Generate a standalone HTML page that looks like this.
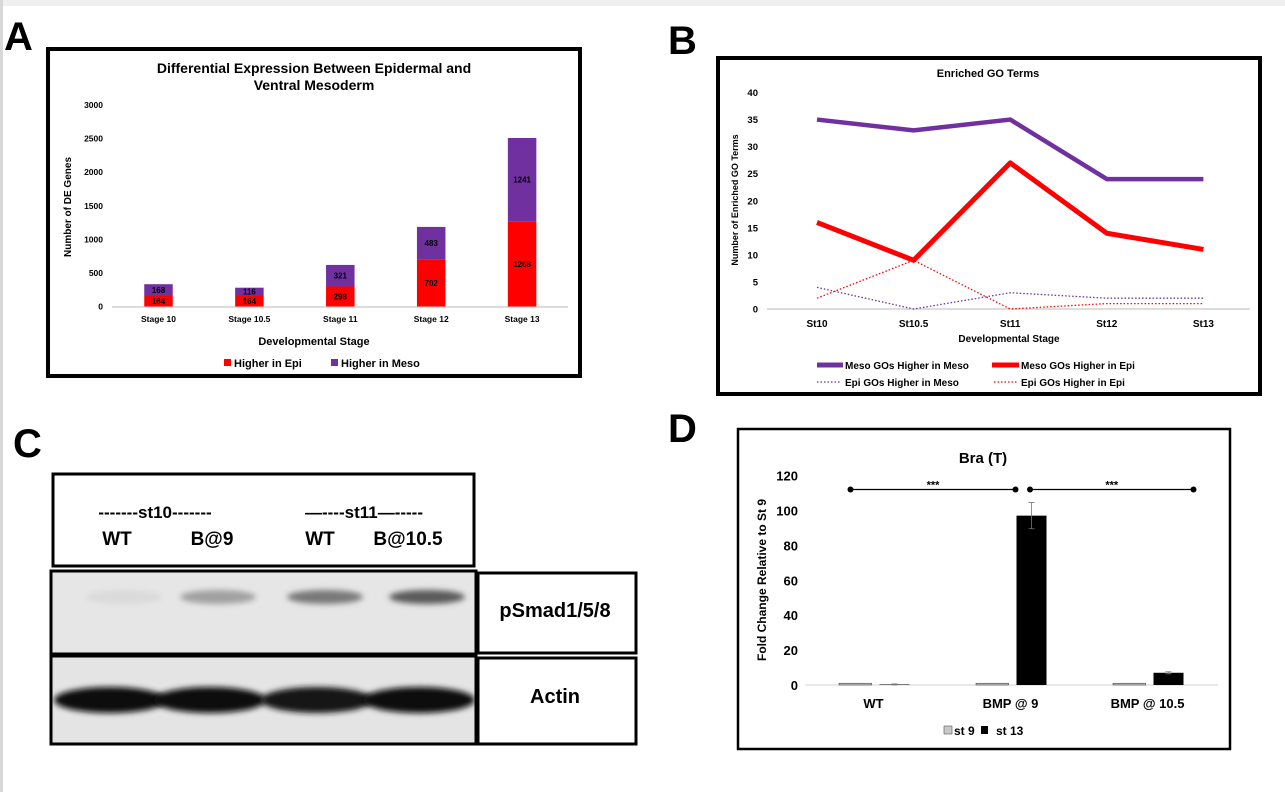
<!DOCTYPE html>
<html><head><meta charset="utf-8"><style>
html,body{margin:0;padding:0;background:#fff;}
svg{display:block;font-family:"Liberation Sans",Arial,sans-serif;font-weight:bold;}
</style></head><body>
<svg id="fig" width="1285" height="792" viewBox="0 0 1285 792">
<defs><filter id="blur" x="-30%" y="-80%" width="160%" height="260%"><feGaussianBlur stdDeviation="3"/></filter></defs>
<rect x="0" y="0" width="1285" height="6" fill="#efefef"/>
<rect x="0" y="0" width="3" height="792" fill="#d8d8d8"/>
<text x="4" y="50" font-size="40">A</text>
<text x="668" y="54" font-size="40">B</text>
<text x="13" y="457" font-size="40">C</text>
<text x="668" y="442" font-size="40">D</text>

<!-- Panel A -->
<g id="pa">
<rect x="48" y="49" width="532" height="327" fill="#fff" stroke="#000" stroke-width="4"/>
<text x="314" y="73" font-size="14" text-anchor="middle">Differential Expression Between Epidermal and</text>
<text x="314" y="90" font-size="14" text-anchor="middle">Ventral Mesoderm</text>
<text transform="translate(71,207) rotate(-90)" font-size="10" text-anchor="middle">Number of DE Genes</text>
<text x="314" y="345" font-size="11" text-anchor="middle">Developmental Stage</text>
<rect x="224" y="359" width="7" height="7" fill="#ff0000"/>
<text x="234" y="367" font-size="11">Higher in Epi</text>
<rect x="331" y="359" width="7" height="7" fill="#7030a0"/>
<text x="341" y="367" font-size="11">Higher in Meso</text>
</g>

<!-- Panel B -->
<g id="pb">
<rect x="718" y="58" width="542" height="336" fill="#fff" stroke="#000" stroke-width="4"/>
<text x="988" y="77" font-size="11" text-anchor="middle">Enriched GO Terms</text>
<text transform="translate(738,200) rotate(-90)" font-size="9" text-anchor="middle">Number of Enriched GO Terms</text>
<text x="1009" y="342" font-size="10" text-anchor="middle">Developmental Stage</text>
<line x1="817" y1="365" x2="843" y2="365" stroke="#7030a0" stroke-width="5"/>
<text x="845" y="369" font-size="10">Meso GOs Higher in Meso</text>
<line x1="992" y1="365" x2="1019" y2="365" stroke="#ff0000" stroke-width="5"/>
<text x="1021" y="369" font-size="10">Meso GOs Higher in Epi</text>
<line x1="817" y1="382" x2="841" y2="382" stroke="#7030a0" stroke-width="1.3" stroke-dasharray="1.5,2"/>
<text x="845" y="386" font-size="10">Epi GOs Higher in Meso</text>
<line x1="994" y1="382" x2="1017" y2="382" stroke="#ff0000" stroke-width="1.3" stroke-dasharray="1.5,2"/>
<text x="1021" y="386" font-size="10">Epi GOs Higher in Epi</text>
</g>

<!-- Panel C -->
<g id="pc">
<rect x="53" y="474" width="421" height="92" fill="#fff" stroke="#000" stroke-width="3"/>
<text x="155" y="518" font-size="17" text-anchor="middle">-------st10-------</text>
<text x="364" y="518" font-size="17" text-anchor="middle">—----st11—-----</text>
<text x="117" y="545" font-size="19" text-anchor="middle">WT</text>
<text x="212" y="545" font-size="19" text-anchor="middle">B@9</text>
<text x="320" y="545" font-size="19" text-anchor="middle">WT</text>
<text x="408" y="545" font-size="19" text-anchor="middle">B@10.5</text>
<rect x="51" y="571" width="425" height="83" fill="#e6e6e6" stroke="#000" stroke-width="3"/>
<rect x="51" y="656" width="425" height="88" fill="#e4e4e4" stroke="#000" stroke-width="3"/>
<g id="bands"></g>
<rect x="478" y="573" width="158" height="80" fill="#fff" stroke="#000" stroke-width="3"/>
<text x="555" y="617" font-size="20" text-anchor="middle">pSmad1/5/8</text>
<rect x="478" y="658" width="158" height="86" fill="#fff" stroke="#000" stroke-width="3"/>
<text x="555" y="703" font-size="20" text-anchor="middle">Actin</text>
</g>

<!-- Panel D -->
<g id="pd">
<rect x="738" y="429" width="492" height="320" fill="#fff" stroke="#000" stroke-width="2.5"/>
<text x="983" y="463" font-size="15" text-anchor="middle">Bra (T)</text>
<text transform="translate(766,580) rotate(-90)" font-size="12" text-anchor="middle">Fold Change Relative to St 9</text>
<rect x="944" y="726" width="8" height="8" fill="#c8c8c8" stroke="#555" stroke-width="0.6"/>
<text x="954" y="735" font-size="12">st 9</text>
<rect x="981" y="726" width="7" height="8" fill="#000"/>
<text x="996" y="735" font-size="12">st 13</text>
</g>
</svg>
<script>
const NS='http://www.w3.org/2000/svg';
function mk(parent,tag,attrs,txt){const e=document.createElementNS(NS,tag);for(const k in attrs)e.setAttribute(k,attrs[k]);if(txt!==undefined)e.textContent=txt;parent.appendChild(e);return e;}

// ---- Panel A data ----
const aCategories=['Stage 10','Stage 10.5','Stage 11','Stage 12','Stage 13'];
const aEpi=[164,164,298,702,1268];
const aMeso=[168,116,321,483,1241];
const aTicks=[0,500,1000,1500,2000,2500,3000];
// ---- Panel B data ----
const bCategories=['St10','St10.5','St11','St12','St13'];
const bMesoHigherMeso=[35,33,35,24,24];
const bMesoHigherEpi=[16,9,27,14,11];
const bEpiHigherMeso=[4,0,3,2,2];
const bEpiHigherEpi=[2,9,0,1,1];
const bTicks=[0,5,10,15,20,25,30,35,40];
// ---- Panel D data ----
const dCategories=['WT','BMP @ 9','BMP @ 10.5'];
const dSt9=[1,1,1];
const dSt13=[0.3,97,7];
const dSt13Err=[0.3,7.5,0.6];
const dTicks=[0,20,40,60,80,100,120];
// ---- Panel C band intensities (0-1) ----
const cPsmad=[0.06,0.35,0.55,0.7];
const cActin=[1,1,0.95,1];

// Panel A
(function(){
 const g=document.getElementById('pa');
 const y=v=>306.5-v*(201.5/3000);
 const x=i=>158.5+i*90.9;
 const bw=28.5;
 aTicks.forEach(t=>{const e=mk(g,'text',{x:103,y:y(t)+3,'font-size':8.5,'text-anchor':'end'},t);
 
 });
 const ax=mk(g,'line',{x1:112,x2:568,y1:y(0)+0.5,y2:y(0)+0.5,stroke:'#d0d0d0','stroke-width':1.5});
 
 
 aCategories.forEach((c,i)=>{
  const r1=mk(g,'rect',{x:x(i)-bw/2,y:y(aEpi[i]),width:bw,height:y(0)-y(aEpi[i]),fill:'#ff0000'});
  
  
  const r2=mk(g,'rect',{x:x(i)-bw/2,y:y(aEpi[i]+aMeso[i]),width:bw,height:y(aEpi[i])-y(aEpi[i]+aMeso[i]),fill:'#7030a0'});
  
  
  const l1=mk(g,'text',{x:x(i),y:(y(0)+y(aEpi[i]))/2+3,'font-size':8,'text-anchor':'middle',fill:'#000'},aEpi[i]);
  
  
  const l2=mk(g,'text',{x:x(i),y:(y(aEpi[i])+y(aEpi[i]+aMeso[i]))/2+3,'font-size':8,'text-anchor':'middle',fill:'#000'},aMeso[i]);
  
  
  const cl=mk(g,'text',{x:x(i),y:322,'font-size':8.5,'text-anchor':'middle'},c);
  
  
 });
})();

// Panel B
(function(){
 const g=document.getElementById('pb');
 const y=v=>309-v*(216.5/40);
 const x=i=>817+i*96.6;
 bTicks.forEach(t=>{const e=mk(g,'text',{x:758,y:y(t)+3.5,'font-size':9.5,'text-anchor':'end'},t);
 
 });
 const ax=mk(g,'line',{x1:767,x2:1250,y1:y(0),y2:y(0),stroke:'#d0d0d0','stroke-width':1.5});
 
 
 bCategories.forEach((c,i)=>{const e=mk(g,'text',{x:x(i),y:327,'font-size':10,'text-anchor':'middle'},c);
 
 });
 const pts=a=>a.map((v,i)=>x(i)+','+y(v)).join(' ');
 const s3=mk(g,'polyline',{points:pts(bEpiHigherMeso),fill:'none',stroke:'#7030a0','stroke-width':1.3,'stroke-dasharray':'1.5,2'});
 
 
 const s4=mk(g,'polyline',{points:pts(bEpiHigherEpi),fill:'none',stroke:'#ff0000','stroke-width':1.3,'stroke-dasharray':'1.5,2'});
 
 
 const s1=mk(g,'polyline',{points:pts(bMesoHigherMeso),fill:'none',stroke:'#7030a0','stroke-width':4.5,'stroke-linejoin':'round'});
 
 
 const s2=mk(g,'polyline',{points:pts(bMesoHigherEpi),fill:'none',stroke:'#ff0000','stroke-width':5,'stroke-linejoin':'round'});
 
 
})();

// Panel C bands
(function(){
 const g=document.getElementById('bands');
 const lanes=[124,218,325,427];
 cPsmad.forEach((v,i)=>{const c=Math.round(230-200*v);
  const e=mk(g,'ellipse',{cx:lanes[i],cy:597,rx:38,ry:7,fill:'rgb('+c+','+c+','+c+')',filter:'url(#blur)'});
  
  });
 cActin.forEach((v,i)=>{const c=Math.round(230-220*v);
  const e=mk(g,'ellipse',{cx:lanes[i]-8+(i==0?-6:0),cy:700,rx:56,ry:13,fill:'rgb('+c+','+c+','+c+')',filter:'url(#blur)'});
  
  });
})();

// Panel D
(function(){
 const g=document.getElementById('pd');
 const y=v=>685-v*(209.5/120);
 const cx=i=>873.5+i*137;
 dTicks.forEach(t=>{const e=mk(g,'text',{x:798,y:y(t)+5,'font-size':13,'text-anchor':'end'},t);
 
 });
 const ax=mk(g,'line',{x1:805,x2:1218,y1:y(0),y2:y(0),stroke:'#d0d0d0','stroke-width':1});
 
 
 dCategories.forEach((c,i)=>{
  const b1=mk(g,'rect',{x:cx(i)-34.5,y:y(dSt9[i]),width:32.5,height:y(0)-y(dSt9[i]),fill:'#c8c8c8',stroke:'#444','stroke-width':0.6});
  
  
  const b2=mk(g,'rect',{x:cx(i)+6,y:y(dSt13[i]),width:30,height:y(0)-y(dSt13[i]),fill:'#000'});
  
  
  const ex=cx(i)+21;
  const eb=mk(g,'path',{d:'M'+ex+','+y(dSt13[i]+dSt13Err[i])+'V'+y(dSt13[i]-dSt13Err[i])+'M'+(ex-3)+','+y(dSt13[i]+dSt13Err[i])+'h6M'+(ex-3)+','+y(dSt13[i]-dSt13Err[i])+'h6',stroke:'#777','stroke-width':0.8,fill:'none'});
  
  
  const l=mk(g,'text',{x:cx(i),y:708,'font-size':13,'text-anchor':'middle'},c);
  
  
 });
 const sigY=y(112);
 [[cx(0)-23,cx(1)+5],[cx(1)+19.5,cx(2)+46]].forEach(p=>{
  const ln=mk(g,'line',{x1:p[0],x2:p[1],y1:sigY,y2:sigY,stroke:'#000','stroke-width':1.2});
  
  
  p.forEach(px=>{const d=mk(g,'circle',{cx:px,cy:sigY,r:3,fill:'#000'});
   
   });
  const s=mk(g,'text',{x:(p[0]+p[1])/2,y:sigY-1,'font-size':11,'text-anchor':'middle'},'***');
  
  
 });
})();
</script>
</body></html>
